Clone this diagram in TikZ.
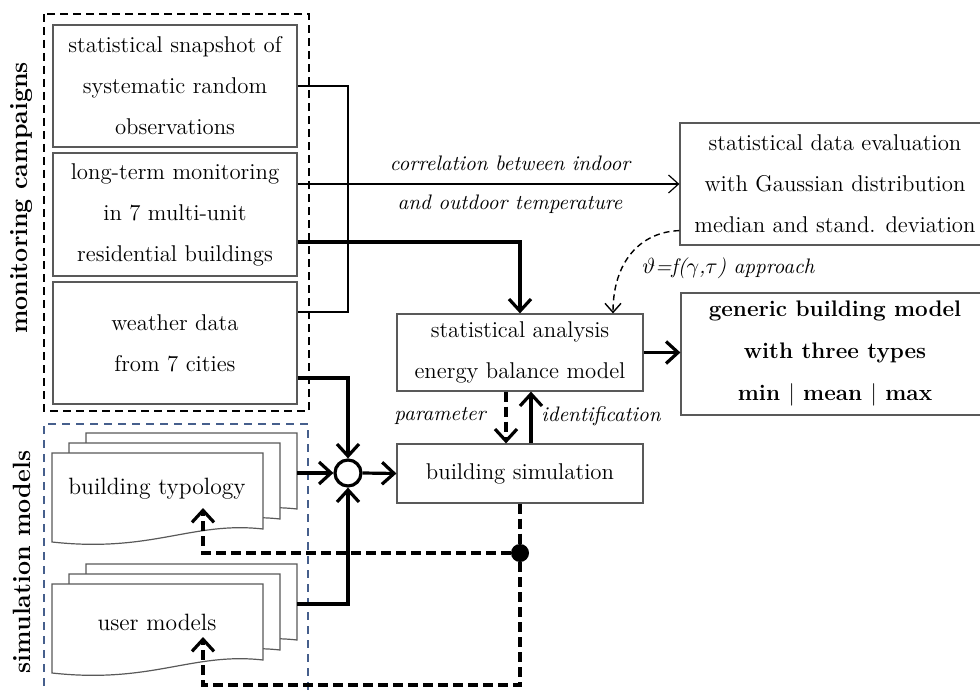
\documentclass[tikz,border=0pt]{standalone}
\usepackage{fontspec}
\usetikzlibrary{arrows.meta,calc}
\tikzset{
  box/.style={draw=black!65,line width=0.6pt,fill=white,align=center,inner sep=0pt,font=\fontsize{11.4}{20.5}\selectfont},
  thinarrow/.style={line width=0.6pt,-{Straight Barb[length=5pt,width=9pt]}},
  thk/.style={line width=1.6pt},
  thkarrow/.style={thk,-{Straight Barb[length=6pt,width=11pt]}},
  dsh/.style={thk,dash pattern=on 5pt off 2.5pt},
  lbl/.style={font=\fontsize{10.5}{12}\selectfont\itshape,inner sep=0pt},
  sidelbl/.style={rotate=90,font=\fontsize{12.5}{14}\selectfont\bfseries,inner sep=0pt},
  docpage/.pic={\filldraw[fill=white,draw=black!65,line width=0.6pt] (0,0) -- (211,0) -- (211,76) .. controls (140,68) and (100,100) .. (0,89) -- cycle;}
}
\begin{document}
\begin{tikzpicture}[x=0.5pt,y=-0.5pt]
\useasboundingbox (0,0) rectangle (980,690);
% frames
\draw[line width=1.1pt,dash pattern=on 4pt off 2.5pt] (44,14) rectangle (309,411);
\draw[line width=0.6pt,draw={rgb,255:red,70;green,95;blue,140},dash pattern=on 4pt off 3pt] (44,700) -- (44,424) -- (308,424) -- (308,700);
\node[sidelbl] (lmc) at (22,198) {monitoring campaigns};
\node[sidelbl] (lsm) at (22,562) {simulation models};
% boxes
\node[box,minimum width=122pt,minimum height=61pt] (b1) at (175,86) {statistical snapshot of\\systematic random\\observations};
\node[box,minimum width=122pt,minimum height=61.5pt] (b2) at (175,214.5) {long-term monitoring\\in 7 multi-unit\\residential buildings};
\node[box,minimum width=122pt,minimum height=61pt] (b3) at (175,343) {weather data\\from 7 cities};
\node[box,minimum width=155pt,minimum height=61pt] (ev) at (835,184) {statistical data evaluation\\with Gaussian distribution\\median and stand. deviation};
\node[box,minimum width=154pt,minimum height=61pt,font=\fontsize{11.25}{21}\selectfont\bfseries] (gen) at (835,354) {generic building model\\with three types\\min {\mdseries|} mean {\mdseries|} max};
\node[box,minimum width=123pt,minimum height=38.5pt] (st) at (520,352.5) {statistical analysis\\energy balance model};
\node[box,minimum width=123pt,minimum height=29.5pt] (sim) at (520,473.5) {building simulation};
\node[circle,draw,line width=1.6pt,minimum size=13pt,inner sep=0pt] (ci) at (348,473) {};
% document stacks
\pic at (86,433) {docpage};
\pic at (69,443) {docpage};
\pic at (52,453) {docpage};
\node[font=\fontsize{11.8}{13}\selectfont] (typ) at (157,489) {building typology};
\pic at (86,564) {docpage};
\pic at (69,574) {docpage};
\pic at (52,584) {docpage};
\node[font=\fontsize{11.8}{13}\selectfont] (usr) at (157,622) {user models};
% thin connectors
\coordinate (br) at (348,312);
\draw[line width=0.6pt] (b1.east) -| (br) -- (b3.east |- br);
\draw[thinarrow] (b2.east |- ev.west) -- (ev.west);
\node[lbl] (cor1) at (510,163) {correlation between indoor};
\node[lbl] (cor2) at (510,204) {and outdoor temperature};
% thick connectors
\coordinate (k1) at (518,242);
\draw[thkarrow] (b2.east |- k1) -| (st.north);
\draw[line width=0.7pt,dash pattern=on 3pt off 2pt,-{Straight Barb[length=4.5pt,width=8pt]}] ($(ev.south west)+(0,-15)$) .. controls (640,232) and (613,262) .. ($(st.north)+(93,0)$);
\node[lbl,anchor=west] (appr) at (642,268) {$\vartheta$=f($\gamma$,$\tau$) approach};
\draw[thkarrow] (st.east) -- (st.east -| gen.west);
\draw[dsh,-{Straight Barb[length=6pt,width=11pt]}] ($(st.south)+(-14,0)$) -- ($(sim.north)+(-14,0)$);
\draw[thkarrow] ($(sim.north)+(11,0)$) -- ($(st.south)+(11,0)$);
\node[lbl,anchor=east] (lpar) at (486,416) {parameter};
\node[lbl,anchor=west] (lid) at (541,416) {identification};
% summing junction inputs
\draw[thkarrow] ($(b3.east)+(0,35)$) -| (ci.north);
\coordinate (typR) at (297,473);
\draw[thkarrow] (typR) -- (ci.west);
\coordinate (usrR) at (297,604);
\draw[thkarrow] (usrR) -| (ci.south);
\draw[thkarrow] (ci.east) -- (sim.west);
% feedback
\node[circle,fill,inner sep=0pt,minimum size=9pt] (dot) at (520,553) {};
\draw[dsh] (sim.south) -- (dot);
\coordinate (fb1) at (203,553);
\coordinate (typtip) at (203,508);
\draw[dsh,-{Straight Barb[length=6pt,width=11pt]}] (dot) -- (fb1) -- (typtip);
\coordinate (c1) at (520,685);
\coordinate (c2) at (203,685);
\coordinate (usrtip) at (203,637);
\draw[dsh,-{Straight Barb[length=6pt,width=11pt]}] (dot) -- (c1) -- (c2) -- (usrtip);
\end{tikzpicture}
\end{document}
